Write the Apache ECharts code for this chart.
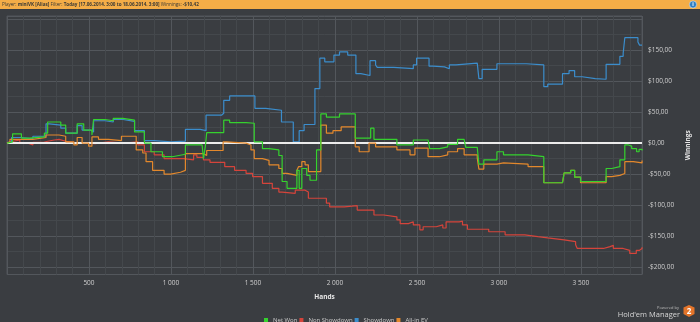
<!DOCTYPE html>
<html>
<head>
<meta charset="utf-8">
<script src="https://cdn.jsdelivr.net/npm/echarts@6/dist/echarts.min.js"></script>
<style>
  html, body { margin: 0; padding: 0; background: #3a3d41; }
  #chart { width: 700px; height: 322px; }
</style>
</head>
<body>
<div id="chart"></div>
<script>
// Cumulative winnings by hand number: [hand, dollars]
const netWon = [[0,0],[8,2],[34,15],[88,8],[138,10],[228,16],[248,34],[328,29],[358,16],[428,31],[468,21],[518,13],[528,38],[598,36],[648,40],[708,37],[778,18],[838,0],[878,-14],[948,-22],[1008,-20],[1048,-18],[1088,-3],[1190,-5],[1198,-25],[1210,-5],[1218,17],[1322,37],[1358,33],[1458,32],[1508,2],[1558,-9],[1598,-11],[1658,-20],[1678,-62],[1708,-73],[1768,-44],[1782,-73],[1798,-41],[1828,-52],[1848,-60],[1888,-11],[1914,47],[1948,42],[2028,47],[2124,8],[2218,24],[2238,6],[2378,-3],[2478,5],[2568,2],[2578,-9],[2638,-6],[2688,-2],[2748,6],[2788,3],[2798,-7],[2868,-10],[2878,-34],[2908,-27],[2988,-14],[3028,-19],[3178,-22],[3274,-64],[3388,-66],[3398,-48],[3438,-44],[3462,-55],[3498,-62],[3654,-41],[3688,-38],[3738,-27],[3768,-3],[3790,-5],[3810,-9],[3840,-14],[3855,-10],[3873,-12]];

const nonShowdown = [[0,0],[8,2],[18,5],[78,0],[128,-3],[158,1],[218,3],[248,5],[288,6],[318,3],[358,0],[438,-1],[538,2],[618,0],[718,2],[798,-3],[838,-14],[898,-19],[958,-25],[1078,-27],[1138,-19],[1158,-23],[1198,-27],[1238,-31],[1328,-38],[1388,-44],[1458,-49],[1498,-54],[1558,-65],[1618,-73],[1658,-79],[1678,-81],[1758,-76],[1818,-79],[1838,-89],[1948,-97],[1968,-103],[2058,-101],[2136,-108],[2238,-116],[2298,-119],[2378,-124],[2398,-130],[2448,-127],[2478,-132],[2518,-140],[2538,-135],[2618,-132],[2658,-137],[2678,-127],[2758,-126],[2778,-132],[2808,-139],[2938,-143],[3038,-148],[3158,-151],[3238,-153],[3298,-156],[3398,-159],[3468,-164],[3478,-170],[3638,-167],[3678,-165],[3698,-170],[3758,-173],[3798,-178],[3838,-173],[3858,-170],[3873,-168]];

const showdown = [[0,0],[8,2],[28,9],[88,7],[158,11],[238,31],[258,29],[328,24],[358,16],[428,28],[458,21],[508,18],[528,36],[598,34],[648,38],[708,35],[778,20],[838,4],[898,2],[1000,3],[1088,22],[1178,20],[1214,45],[1308,48],[1322,69],[1358,76],[1512,56],[1578,53],[1674,34],[1746,2],[1782,20],[1812,30],[1878,88],[1908,137],[1938,131],[1994,142],[2028,147],[2078,142],[2128,112],[2158,109],[2214,133],[2248,126],[2258,122],[2358,120],[2478,126],[2498,137],[2574,124],[2598,123],[2668,120],[2698,126],[2738,129],[2868,126],[2878,104],[2898,119],[2988,128],[3168,126],[3274,91],[3298,95],[3388,112],[3428,117],[3462,107],[3508,104],[3588,103],[3654,127],[3738,140],[3758,145],[3768,170],[3848,163],[3858,158],[3873,158]];

const allInEV = [[0,0],[8,2],[18,6],[158,9],[238,13],[318,11],[358,2],[408,-3],[428,9],[458,0],[498,-5],[518,10],[558,6],[618,4],[698,11],[788,-11],[828,-16],[848,-30],[888,-44],[958,-50],[998,-47],[1058,-44],[1088,-17],[1198,-20],[1218,-12],[1318,2],[1338,0],[1458,-3],[1488,-11],[1508,-25],[1558,-28],[1598,-35],[1658,-41],[1678,-49],[1708,-52],[1768,-44],[1778,-38],[1798,-30],[1818,-35],[1838,-46],[1888,-46],[1914,29],[1948,16],[1988,20],[2038,26],[2124,-6],[2148,-14],[2208,0],[2248,-6],[2378,-11],[2458,-19],[2488,-8],[2568,-22],[2598,-22],[2638,-19],[2688,-14],[2748,-9],[2788,-19],[2868,-24],[2878,-42],[2908,-34],[2988,-32],[3028,-34],[3178,-38],[3274,-64],[3388,-66],[3398,-48],[3438,-44],[3462,-55],[3498,-64],[3654,-54],[3688,-52],[3738,-49],[3768,-30],[3820,-32],[3873,-28]];

const seriesNames = ['Net Won', 'Non Showdown', 'Showdown', 'All-in EV'];
const headerParts = [
  ['l', 'Player: '], ['b', 'miniVK [Alias]'], ['l', ' Filter: '],
  ['b', 'Today [17.06.2014. 3:00 to 18.06.2014. 3:00]'], ['l', ' Winnings: '], ['b', '-$10,42']
];

const FONT = '"Open Sans", "DejaVu Sans", sans-serif';
const chart = echarts.init(document.getElementById('chart'), null, { renderer: 'canvas' });

function money(v) {
  const s = '$' + Math.abs(v).toFixed(2).replace('.', ',');
  return v < 0 ? '-' + s : s;
}
function handsLabel(v) {
  if (v === 0) return '';
  return String(v).replace(/\B(?=(\d{3})+(?!\d))/g, ' ');
}

function lineSeries(name, data, color, z) {
  return {
    name: name, type: 'line', step: 'end', data: data,
    showSymbol: false, symbol: 'none', z: z,
    lineStyle: { color: color, width: 1.2 }, itemStyle: { color: color },
    animation: false
  };
}

const green = lineSeries(seriesNames[0], netWon, '#35d22e', 6);
green.markLine = {
  silent: true, symbol: ['none', 'none'], label: { show: false },
  lineStyle: { color: '#ececec', width: 2, type: 'solid' },
  data: [{ yAxis: 0 }], animation: false
};

chart.setOption({
  backgroundColor: '#3a3d41',
  animation: false,
  grid: { left: 7, right: 48, top: 16, bottom: 47.5, show: true, borderColor: '#50545a', borderWidth: 1, backgroundColor: 'transparent' },
  legend: {
    data: seriesNames, left: 259, top: 312, itemWidth: 4, itemHeight: 4, itemGap: 2,
    icon: 'rect', textStyle: { color: '#c9c9c9', fontSize: 6, fontFamily: FONT }
  },
  xAxis: {
    type: 'value', min: 0, max: 3873, interval: 500,
    name: 'Hands', nameLocation: 'middle', nameGap: 19,
    nameTextStyle: { color: '#e6e6e6', fontSize: 6.5, fontWeight: 'bold', fontFamily: FONT },
    axisLine: { show: false }, axisTick: { show: false },
    axisLabel: { color: '#cfcfcf', fontSize: 6.5, fontFamily: FONT, margin: 5, formatter: handsLabel, showMaxLabel: false },
    splitLine: { show: true, lineStyle: { color: '#53575c', width: 1 } },
    minorTick: { show: false, splitNumber: 5 },
    minorSplitLine: { show: true, lineStyle: { color: '#44484c', width: 1 } }
  },
  yAxis: {
    type: 'value', position: 'right', min: -212, max: 205, splitNumber: 8,
    name: 'Winnings', nameLocation: 'middle', nameGap: 35, nameRotate: 90,
    nameTextStyle: { color: '#e6e6e6', fontSize: 6.5, fontWeight: 'bold', fontFamily: FONT },
    axisLine: { show: false }, axisTick: { show: false },
    axisLabel: {
      color: '#cfcfcf', fontSize: 6.5, fontFamily: FONT, margin: 6,
      formatter: function (v) { return (v % 50 === 0 && v < 200) ? money(v) : ''; }
    },
    splitLine: { show: true, lineStyle: { color: '#53575c', width: 1 } },
    minorTick: { show: false, splitNumber: 2 },
    minorSplitLine: { show: true, lineStyle: { color: '#44484c', width: 1 } }
  },
  series: [
    green,
    lineSeries(seriesNames[1], nonShowdown, '#d5443b', 3),
    lineSeries(seriesNames[2], showdown, '#3b8dcc', 4),
    lineSeries(seriesNames[3], allInEV, '#e3882c', 5)
  ],
  graphic: [
    { type: 'rect', left: 0, top: 0, shape: { width: 700, height: 9 }, style: { fill: '#f4ad47' }, z: 10 },
    {
      type: 'text', left: 2, top: 1.8, z: 11,
      style: {
        text: headerParts.map(function (p) { return '{' + p[0] + '|' + p[1] + '}'; }).join(''),
        rich: {
          l: { fill: '#3b3a36', fontSize: 4.6, fontFamily: FONT },
          b: { fill: '#3b3a36', fontSize: 4.6, fontFamily: FONT, fontWeight: 'bold' }
        }
      }
    },
    { type: 'circle', shape: { cx: 693, cy: 4.5, r: 3.6 }, style: { fill: '#2f7fc4', stroke: '#dbe8f4', lineWidth: 0.6 }, z: 11 },
    { type: 'text', x: 693, y: 4.7, z: 12, style: { text: 'i', fill: '#ffffff', fontSize: 5, fontWeight: 'bold', fontFamily: FONT, align: 'center', verticalAlign: 'middle' } },
    { type: 'text', x: 679, y: 308, z: 11, style: { text: 'Powered by', fill: '#bdbdbd', fontSize: 4, fontFamily: FONT, align: 'right', verticalAlign: 'middle' } },
    { type: 'text', x: 680, y: 314.5, z: 11, style: { text: "Hold'em Manager", fill: '#d6d6d6', fontSize: 7.5, fontFamily: FONT, align: 'right', verticalAlign: 'middle' } },
    { type: 'polygon', z: 11, shape: { points: [[683.5,307.5],[689,305],[694.5,307.5],[694.5,314],[689,317],[683.5,314]] }, style: { fill: '#e3742a' } },
    { type: 'text', x: 689, y: 311.3, z: 12, style: { text: '2', fill: '#ffffff', fontSize: 8, fontWeight: 'bold', fontFamily: FONT, align: 'center', verticalAlign: 'middle' } }
  ]
});
</script>
</body>
</html>
